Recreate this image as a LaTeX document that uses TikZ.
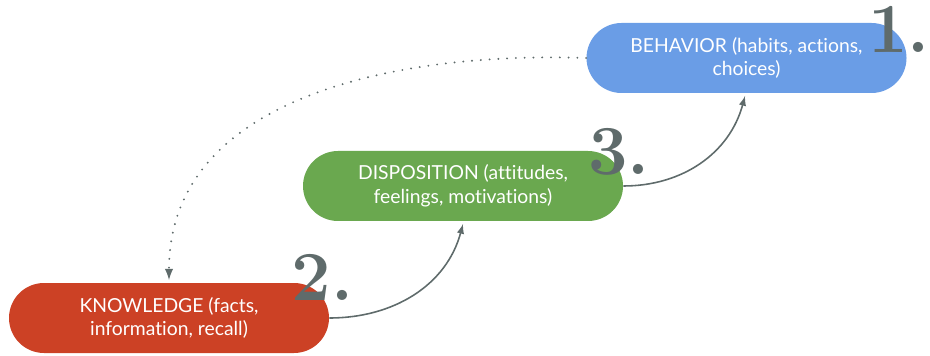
\documentclass[tikz,border=0pt]{standalone}
\usepackage{fontspec}
\newfontfamily\boxfont[Ligatures=NoCommon]{Lato}
\usetikzlibrary{arrows,positioning}
\definecolor{behaviorblue}{HTML}{6A9DE6}
\definecolor{dispositiongreen}{HTML}{6AA84F}
\definecolor{knowledgered}{HTML}{CC4125}
\definecolor{arrowgray}{HTML}{5F6B6B}

\begin{document}
\begin{tikzpicture}[
    stage/.style={rectangle, rounded corners=0.7cm, minimum width=6.4cm, minimum height=1.4cm,
        text=white, align=center, font=\boxfont\fontsize{11}{13.5}\selectfont},
    num/.style={text=arrowgray, font=\bfseries\fontsize{40}{40}\selectfont, inner sep=0pt},
    link/.style={draw=arrowgray, line width=0.9pt, -latex}
    ]
        \useasboundingbox (0,0) rectangle (18.6,7.1);
        % Stages
        \node[stage, fill=behaviorblue] (behavior) at (14.93,5.94) {BEHAVIOR (habits, actions,\\choices)};
        \node[stage, fill=dispositiongreen] (disposition) at (9.26,3.38) {DISPOSITION (attitudes,\\feelings, motivations)};
        \node[stage, fill=knowledgered] (knowledge) at (3.38,0.74) {KNOWLEDGE (facts,\\information, recall)};

        % Numbers
        \node[num] (n1) at (17.98,6.52) {1.};
        \node[num] (n2) at (6.45,1.56) {2.};
        \node[num] (n3) at (12.38,4.06) {3.};

        % Links
        \coordinate (dtip) at (9.26,2.62);
        \coordinate (btip) at (14.9,5.18);
        \coordinate (ktip) at (3.38,1.5);
        \draw[link] (knowledge.east) to[out=0, in=-105] (dtip);
        \draw[link] (disposition.east) to[out=0, in=-105] (btip);
        \draw[link, line width=1.2pt, line cap=round, dash pattern=on 0pt off 5pt]
            (behavior.west) to[out=178, in=90] (ktip);
    \end{tikzpicture}
\end{document}
